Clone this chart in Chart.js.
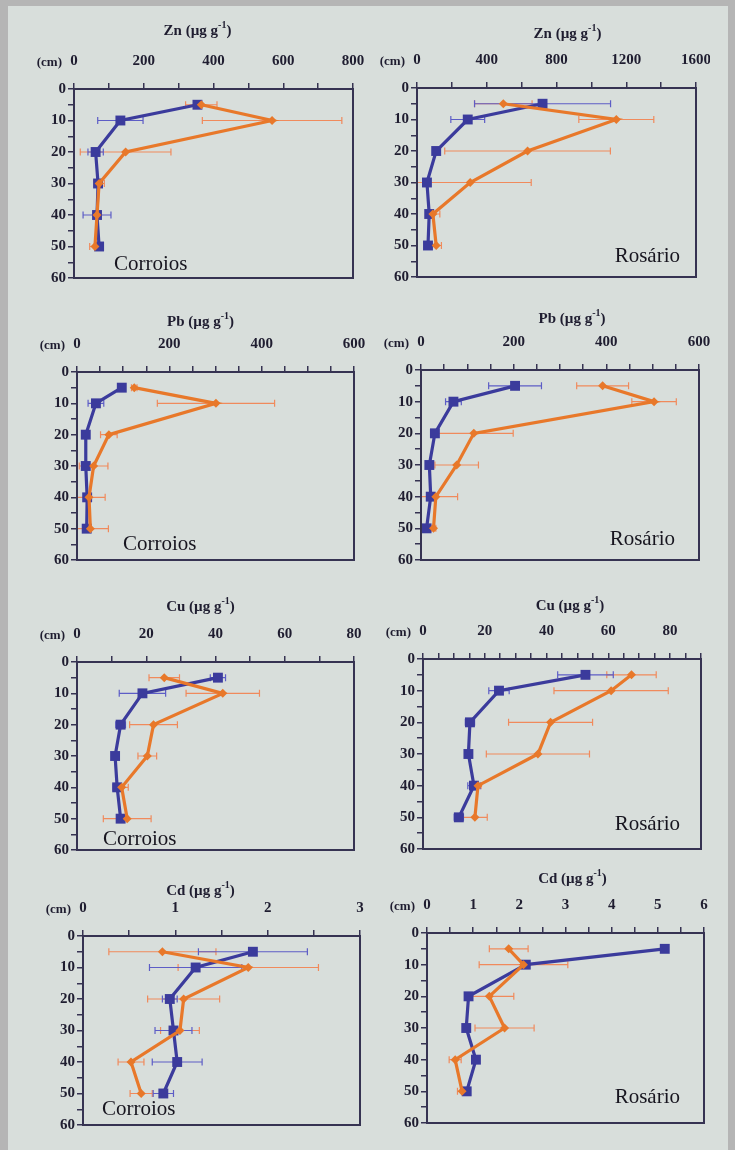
<!DOCTYPE html>
<html>
<head>
<meta charset="utf-8">
<script src="https://cdn.jsdelivr.net/npm/chart.js@4.4.1/dist/chart.umd.min.js"></script>
<style>
  body { margin: 0; background: #b5b5b5; }
  #page { position: relative; width: 735px; height: 1150px; background: #d8dedb;
          border-left: 8px solid #b5b5b5; border-top: 6px solid #b5b5b5; border-right: 7px solid #b5b5b5;
          box-sizing: border-box; }
  canvas { position: absolute; }
</style>
</head>
<body>
<div id="page"></div>
<script>
// depth of each sample (cm)
const depths = [5, 10, 20, 30, 40, 50];

// Zn (ug/g)
const znCorroiosBlue = [354, 133, 62, 69, 66, 72];
const znCorroiosBlueErr = [10, 65, 22, 8, 40, 8];
const znCorroiosOrange = [365, 568, 148, 72, 66, 60];
const znCorroiosOrangeErr = [45, 200, 130, 15, 5, 15];
const znRosarioBlue = [720, 291, 110, 57, 70, 63];
const znRosarioBlueErr = [390, 97, 15, 10, 15, 10];
const znRosarioOrange = [495, 1143, 634, 305, 91, 110];
const znRosarioOrangeErr = [165, 215, 475, 350, 40, 30];

// Pb (ug/g)
const pbCorroiosBlue = [97, 41, 19, 19, 22, 21];
const pbCorroiosBlueErr = [6, 17, 4, 5, 6, 4];
const pbCorroiosOrange = [124, 301, 69, 36, 26, 29];
const pbCorroiosOrangeErr = [6, 127, 18, 31, 35, 39];
const pbRosarioBlue = [203, 70, 30, 18, 21, 12];
const pbRosarioBlueErr = [57, 17, 6, 4, 5, 4];
const pbRosarioOrange = [392, 503, 114, 77, 32, 27];
const pbRosarioOrangeErr = [56, 48, 85, 47, 47, 5];

// Cu (ug/g)
const cuCorroiosBlue = [40.7, 18.9, 12.6, 11, 11.6, 12.6];
const cuCorroiosBlueErr = [2.2, 6.7, 1.4, 0.6, 1.2, 0.8];
const cuCorroiosOrange = [25.2, 42.1, 22.1, 20.3, 12.9, 14.5];
const cuCorroiosOrangeErr = [4.4, 10.6, 6.9, 2.7, 1.9, 6.9];
const cuRosarioBlue = [52.6, 24.6, 15.2, 14.7, 16.5, 11.6];
const cuRosarioBlueErr = [9, 3.3, 1.5, 0.8, 2, 1.5];
const cuRosarioOrange = [67.5, 60.9, 41.3, 37.2, 17.8, 16.8];
const cuRosarioOrangeErr = [8, 18.5, 13.6, 16.7, 1, 4];

// Cd (ug/g)
const cdCorroiosBlue = [1.84, 1.22, 0.94, 0.98, 1.02, 0.87];
const cdCorroiosBlueErr = [0.59, 0.5, 0.08, 0.2, 0.27, 0.11];
const cdCorroiosOrange = [0.86, 1.79, 1.09, 1.05, 0.52, 0.63];
const cdCorroiosOrangeErr = [0.58, 0.76, 0.39, 0.21, 0.14, 0.12];
const cdRosarioBlue = [5.15, 2.14, 0.90, 0.85, 1.06, 0.86];
const cdRosarioBlueErr = [0, 0, 0, 0, 0, 0];
const cdRosarioOrange = [1.77, 2.09, 1.35, 1.68, 0.61, 0.76];
const cdRosarioOrangeErr = [0.42, 0.96, 0.53, 0.64, 0.13, 0.1];

const BLUE = '#3b3b9c', BLUE_ERR = '#5d5dc6';
const ORANGE = '#e8782a', ORANGE_ERR = '#f08a5c';
const AXIS = '#363352', INK = '#1f1d30';
const SERIF = '"Liberation Serif", "Times New Roman", serif';

// box = plot frame in page px [left, top, right, bottom]
const panels = [
  { metal: 'Zn', site: 'Corroios', box: [74, 89, 353, 278], max: 800, step: 100, major: 200,
    blue: znCorroiosBlue, blueErr: znCorroiosBlueErr, orange: znCorroiosOrange, orangeErr: znCorroiosOrangeErr,
    titleDx: -16, titleDy: -58, siteAlign: 'left', siteDx: 40, siteDy: -8 },
  { metal: 'Zn', site: 'Rosário', box: [417, 88, 696, 277], max: 1600, step: 200, major: 400,
    blue: znRosarioBlue, blueErr: znRosarioBlueErr, orange: znRosarioOrange, orangeErr: znRosarioOrangeErr,
    titleDx: 11, titleDy: -54, siteAlign: 'right', siteDx: -16, siteDy: -15 },
  { metal: 'Pb', site: 'Corroios', box: [77, 372, 354, 560], max: 600, step: 50, major: 200,
    blue: pbCorroiosBlue, blueErr: pbCorroiosBlueErr, orange: pbCorroiosOrange, orangeErr: pbCorroiosOrangeErr,
    titleDx: -15, titleDy: -50, siteAlign: 'left', siteDx: 46, siteDy: -10 },
  { metal: 'Pb', site: 'Rosário', box: [421, 370, 699, 560], max: 600, step: 50, major: 200,
    blue: pbRosarioBlue, blueErr: pbRosarioBlueErr, orange: pbRosarioOrange, orangeErr: pbRosarioOrangeErr,
    titleDx: 12, titleDy: -51, siteAlign: 'right', siteDx: -24, siteDy: -15 },
  { metal: 'Cu', site: 'Corroios', box: [77, 662, 354, 850], max: 80, step: 10, major: 20,
    blue: cuCorroiosBlue, blueErr: cuCorroiosBlueErr, orange: cuCorroiosOrange, orangeErr: cuCorroiosOrangeErr,
    titleDx: -15, titleDy: -55, siteAlign: 'left', siteDx: 26, siteDy: -5 },
  { metal: 'Cu', site: 'Rosário', box: [423, 659, 701, 849], max: 90, step: 5, major: 20,
    blue: cuRosarioBlue, blueErr: cuRosarioBlueErr, orange: cuRosarioOrange, orangeErr: cuRosarioOrangeErr,
    titleDx: 8, titleDy: -53, siteAlign: 'right', siteDx: -21, siteDy: -19 },
  { metal: 'Cd', site: 'Corroios', box: [83, 936, 360, 1125], max: 3, step: 0.5, major: 1,
    blue: cdCorroiosBlue, blueErr: cdCorroiosBlueErr, orange: cdCorroiosOrange, orangeErr: cdCorroiosOrangeErr,
    titleDx: -21, titleDy: -45, siteAlign: 'left', siteDx: 19, siteDy: -10 },
  { metal: 'Cd', site: 'Rosário', box: [427, 933, 704, 1123], max: 6, step: 0.5, major: 1,
    blue: cdRosarioBlue, blueErr: cdRosarioBlueErr, orange: cdRosarioOrange, orangeErr: cdRosarioOrangeErr,
    titleDx: 7, titleDy: -54, siteAlign: 'right', siteDx: -24, siteDy: -20 },
];

const Y_W = 50, X_H = 70, PAD_R = 14, PAD_B = 10;
const BORDER_L = 8, BORDER_T = 6;

// horizontal error bars, drawn under the lines
const errorBars = {
  id: 'errorBars',
  beforeDatasetsDraw(chart) {
    const { ctx, chartArea: a, scales: { x, y } } = chart;
    ctx.save();
    ctx.beginPath();
    ctx.rect(a.left, a.top, a.width, a.height);
    ctx.clip();
    chart.data.datasets.forEach(ds => {
      ctx.strokeStyle = ds.errColor;
      ctx.lineWidth = 1.2;
      ds.data.forEach((p, i) => {
        const e = ds.errors[i];
        if (!e) return;
        const py = y.getPixelForValue(p.y);
        const x1 = x.getPixelForValue(p.x - e);
        const x2 = x.getPixelForValue(p.x + e);
        ctx.beginPath();
        ctx.moveTo(x1, py); ctx.lineTo(x2, py);
        ctx.moveTo(x1, py - 3.5); ctx.lineTo(x1, py + 3.5);
        ctx.moveTo(x2, py - 3.5); ctx.lineTo(x2, py + 3.5);
        ctx.stroke();
      });
    });
    ctx.restore();
  }
};

// frame, element title, (cm) and site name
const panelText = {
  id: 'panelText',
  afterDraw(chart, args, o) {
    const { ctx, chartArea: a } = chart;
    ctx.save();
    ctx.strokeStyle = AXIS;
    ctx.lineWidth = 2;
    ctx.strokeRect(a.left, a.top, a.width, a.height);

    ctx.fillStyle = INK;
    ctx.textBaseline = 'middle';
    ctx.textAlign = 'left';
    const big = 'bold 15px ' + SERIF, small = 'bold 10px ' + SERIF;
    const head = o.metal + ' (\u00b5g g', sup = '-1', tail = ')';
    ctx.font = big;
    const w1 = ctx.measureText(head).width, w3 = ctx.measureText(tail).width;
    ctx.font = small;
    const w2 = ctx.measureText(sup).width;
    let tx = (a.left + a.right) / 2 + o.titleDx - (w1 + w2 + w3) / 2;
    const ty = a.top + o.titleDy;
    ctx.font = big; ctx.fillText(head, tx, ty); tx += w1;
    ctx.font = small; ctx.fillText(sup, tx, ty - 6); tx += w2;
    ctx.font = big; ctx.fillText(tail, tx, ty);

    ctx.font = 'bold 13px ' + SERIF;
    ctx.textAlign = 'right';
    ctx.textBaseline = 'bottom';
    ctx.fillText('(cm)', a.left - 12, a.top - 20);

    ctx.font = '21px ' + SERIF;
    ctx.fillStyle = '#17151f';
    ctx.textAlign = o.siteAlign;
    ctx.textBaseline = 'alphabetic';
    const sx = o.siteAlign === 'left' ? a.left + o.siteDx : a.right + o.siteDx;
    ctx.fillText(o.site, sx, a.bottom + o.siteDy);
    ctx.restore();
  }
};

const page = document.getElementById('page');

panels.forEach(p => {
  const [l, t, r, b] = p.box;
  const canvas = document.createElement('canvas');
  canvas.width = (r - l) + Y_W + PAD_R;
  canvas.height = (b - t) + X_H + PAD_B;
  canvas.style.left = (l - Y_W - BORDER_L) + 'px';
  canvas.style.top = (t - X_H - BORDER_T) + 'px';
  page.appendChild(canvas);

  const toPoints = xs => xs.map((v, i) => ({ x: v, y: depths[i] }));
  const grid = { drawOnChartArea: false, drawTicks: true, tickLength: 6, color: AXIS, lineWidth: 1.5 };
  const tickFont = { family: SERIF, size: 15, weight: 'bold' };

  new Chart(canvas, {
    type: 'scatter',
    data: {
      datasets: [
        { label: p.metal + ' ' + p.site + ' (laranja)', data: toPoints(p.orange), errors: p.orangeErr,
          errColor: ORANGE_ERR, showLine: true, borderColor: ORANGE, backgroundColor: ORANGE,
          borderWidth: 3.2, pointStyle: 'rectRot', pointRadius: 4.5, pointBorderWidth: 0 },
        { label: p.metal + ' ' + p.site + ' (azul)', data: toPoints(p.blue), errors: p.blueErr,
          errColor: BLUE_ERR, showLine: true, borderColor: BLUE, backgroundColor: BLUE,
          borderWidth: 3.2, pointStyle: 'rect', pointRadius: 7, pointBorderWidth: 0 },
      ]
    },
    options: {
      responsive: false,
      animation: false,
      layout: { padding: { left: 0, top: 0, right: PAD_R, bottom: PAD_B } },
      scales: {
        x: {
          type: 'linear', position: 'top', min: 0, max: p.max,
          grid: grid, border: { display: true, color: AXIS, width: 2 },
          ticks: {
            stepSize: p.step, autoSkip: false, maxRotation: 0, padding: 13, color: INK, font: tickFont,
            callback: v => Math.abs(v / p.major - Math.round(v / p.major)) < 1e-6 ? v : ''
          },
          afterFit: s => { s.height = X_H; s.paddingLeft = 0; s.paddingRight = 0; }
        },
        y: {
          type: 'linear', position: 'left', reverse: true, min: 0, max: 60,
          grid: grid, border: { display: true, color: AXIS, width: 2 },
          ticks: {
            stepSize: 5, autoSkip: false, padding: 2, color: INK, font: tickFont,
            callback: v => v % 10 === 0 ? v : ''
          },
          afterFit: s => { s.width = Y_W; s.paddingTop = 0; s.paddingBottom = 0; }
        }
      },
      plugins: {
        legend: { display: false },
        tooltip: { enabled: false },
        panelText: {
          metal: p.metal, site: p.site, titleDx: p.titleDx, titleDy: p.titleDy,
          siteAlign: p.siteAlign, siteDx: p.siteDx, siteDy: p.siteDy
        }
      }
    },
    plugins: [errorBars, panelText]
  });
});
</script>
</body>
</html>
